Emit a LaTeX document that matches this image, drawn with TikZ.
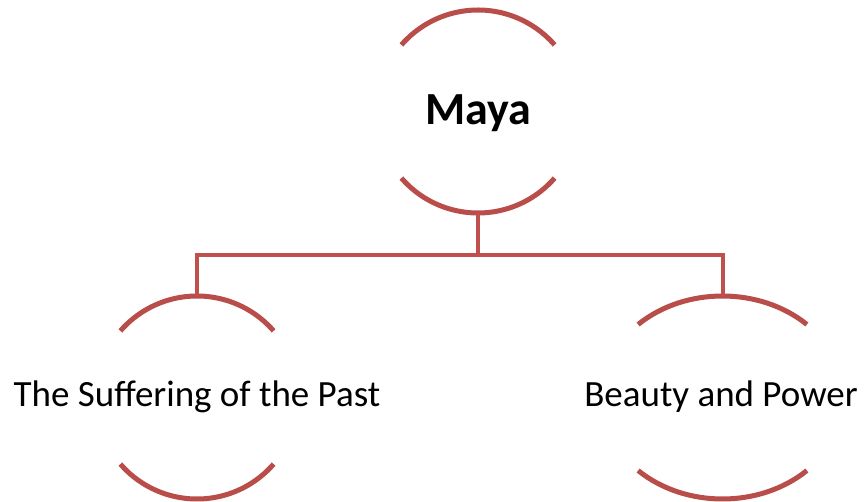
\documentclass[tikz,border=0pt]{standalone}
\usepackage{fontspec}
\setmainfont{Carlito}
\usetikzlibrary{calc}
\definecolor{arcred}{HTML}{B84D49}
\definecolor{linkred}{HTML}{C0504D}
\tikzset{
  ring/.style={draw=arcred, line width=5pt},
  link/.style={draw=linkred, line width=4pt},
  lbl/.style={inner sep=0pt, text=black, anchor=base},
}
\begin{document}
\begin{tikzpicture}[x=1pt,y=1pt]
\useasboundingbox (0,0) rectangle (865,501);
% centres
\coordinate (cTop) at (478,389.5);
\coordinate (cLeft) at (197,103.5);
\coordinate (cRight) at (722.5,103.5);
% labels
\node[lbl, font=\fontsize{46}{52}\selectfont\bfseries] (maya) at (478.5,376) {Maya};
\node[lbl, font=\fontsize{37}{42}\selectfont] (past) at (197,94) {The Suffering of the Past};
\node[lbl, font=\fontsize{37}{42}\selectfont] (beauty) at (721,94) {Beauty and Power};
% arcs
\draw[ring] ($(cTop)+(41:101.5)$) arc[start angle=41, end angle=139, radius=101.5];
\draw[ring] ($(cTop)+(221:101.5)$) arc[start angle=221, end angle=319, radius=101.5];
\draw[ring] ($(cLeft)+(41:101.5)$) arc[start angle=41, end angle=139, radius=101.5];
\draw[ring] ($(cLeft)+(221:101.5)$) arc[start angle=221, end angle=319, radius=101.5];
\draw[ring] ($(cRight)+(46:121.5 and 101.5)$) arc[start angle=46, end angle=134, x radius=121.5, y radius=101.5];
\draw[ring] ($(cRight)+(226:121.5 and 101.5)$) arc[start angle=226, end angle=314, x radius=121.5, y radius=101.5];
% connector anchor points
\coordinate (topB) at ($(cTop)+(0,-101.5)$);
\coordinate (leftT) at ($(cLeft)+(0,101.5)$);
\coordinate (rightT) at ($(cRight)+(0,101.5)$);
\coordinate (bus) at (478,246);
\draw[link] (topB) -- (bus);
\draw[link] (leftT) |- (bus) -| (rightT);
\end{tikzpicture}
\end{document}
